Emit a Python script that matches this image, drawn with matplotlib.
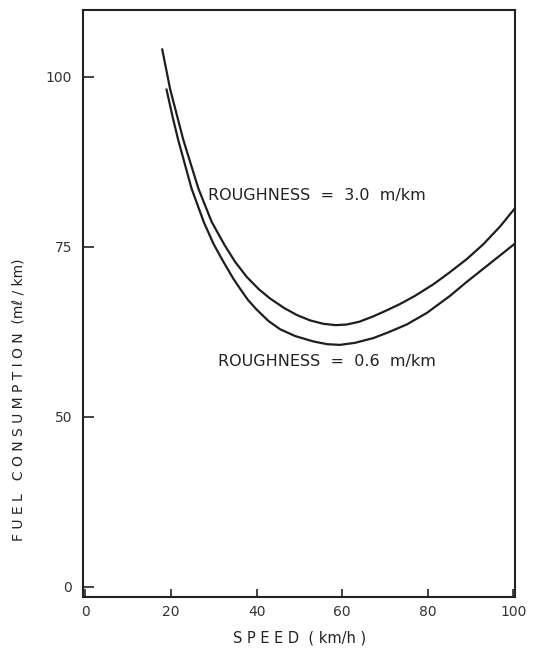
import numpy as np
import matplotlib.pyplot as plt

# speed (km/h) and fuel consumption (ml/km)
speed_hi = [17.9, 19.8, 22.9, 26.4, 29.5, 32.5, 35.0, 37.7, 40.5, 43.2, 46.5, 49.4, 52.5,
            55.6, 58.5, 61.1, 64.0, 67.3, 70.5, 73.5, 77.0, 81.3, 85.0, 89.1, 93.0, 96.9, 100.4]
fuel_hi = [104.2, 98.2, 90.7, 83.6, 78.7, 75.3, 72.8, 70.6, 68.8, 67.4, 66.0, 65.0, 64.2,
           63.7, 63.5, 63.6, 64.0, 64.8, 65.7, 66.6, 67.8, 69.5, 71.2, 73.2, 75.4, 78.0, 80.7]

speed_lo = [18.9, 20.5, 21.7, 24.8, 27.7, 29.9, 31.9, 34.6, 36.1, 38.0, 40.0, 42.8, 45.5,
            49.0, 53.3, 56.5, 59.5, 63.0, 67.3, 71.0, 75.1, 79.8, 85.2, 89.0, 93.0, 96.8, 100.4]
fuel_lo = [98.3, 93.8, 90.7, 83.6, 78.6, 75.5, 73.2, 70.3, 68.9, 67.2, 65.8, 64.1, 62.9,
           61.9, 61.1, 60.7, 60.6, 60.9, 61.6, 62.5, 63.6, 65.3, 67.8, 69.8, 71.8, 73.7, 75.5]

xticks = [0, 20, 40, 60, 80, 100]
# the y axis is broken: "0" sits where 25 would be
ytick_pos = [25, 50, 75, 100]
ytick_lab = ['0', '50', '75', '100']

plt.rcParams['font.family'] = ['DejaVu Sans']

fig = plt.figure(figsize=(5.36, 6.48), dpi=100)
ax = fig.add_axes([0.1554, 0.0792, 0.8054, 0.9054])

ax.plot(speed_hi, fuel_hi, color='#1e1e1e', lw=1.6, solid_capstyle='butt')
ax.plot(speed_lo, fuel_lo, color='#1e1e1e', lw=1.6, solid_capstyle='butt')

ax.set_xlim(-0.5, 100.4)
ax.set_ylim(23.57, 109.85)

ax.set_xticks(xticks)
ax.set_xticklabels([str(t) for t in xticks], fontsize=10, color='#333333')
ax.set_yticks(ytick_pos)
ax.set_yticklabels(ytick_lab, fontsize=10, color='#333333')
ax.tick_params(axis='x', direction='in', length=6, width=1.2, pad=6, colors='#222222',
               labelcolor='#333333')
ax.tick_params(axis='y', direction='in', length=8, width=1.2, pad=8, colors='#222222',
               labelcolor='#333333')

for s in ax.spines.values():
    s.set_linewidth(1.5)
    s.set_color('#222222')

ax.text(28.7, 82.6, 'ROUGHNESS  =  3.0  m/km', fontsize=11.5, va='center', ha='left',
        color='#222222')
ax.text(31.1, 58.1, 'ROUGHNESS  =  0.6  m/km', fontsize=11.5, va='center', ha='left',
        color='#222222')

ax.set_xlabel('S P E E D  ( km/h )', fontsize=10.5, color='#222222', labelpad=8)
ax.set_ylabel('F U E L   C O N S U M P T I O N  (mℓ / km)', fontsize=10, color='#222222')
ax.yaxis.set_label_coords(-0.134, 0.335)

fig.savefig('out.png', dpi=100)
